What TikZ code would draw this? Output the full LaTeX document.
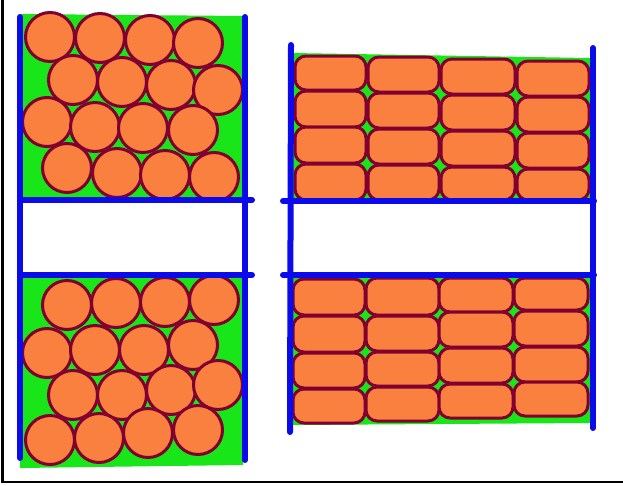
\documentclass[tikz,border=0pt]{standalone}
\begin{document}
\begin{tikzpicture}[x=1pt,y=-1pt,
  pblue/.style={draw=bluel,line width=6pt,line cap=round},
  bed/.style={fill=greenf},
  ball/.style={fill=orangef,draw=maroonl,line width=3pt},
  brick/.style={fill=orangef,draw=maroonl,line width=3pt,rounded corners=11pt},
  frame/.style={draw=black,line width=2.2pt}]
\definecolor{bluel}{RGB}{10,10,235}
\definecolor{greenf}{RGB}{25,230,25}
\definecolor{orangef}{RGB}{250,128,64}
\definecolor{maroonl}{RGB}{128,0,48}
\useasboundingbox (0,0) rectangle (623,485);
\fill[white] (0,0) rectangle (623,485);
% frame (left and bottom only)
\draw[frame] (2.5,0) -- (2.5,482) -- (623,482);
% ---------- left panel ----------
\fill[bed] (20,14) -- (243,16) -- (243,200) -- (20,200) -- cycle;
\fill[bed] (20,275) -- (243,275) -- (243,465) -- (20,468) -- cycle;
% top balls
\foreach \x/\y in {50/37,100/38,150/40,198/43,
                   73/80,122/82,171/85,218/90,
                   47/122,95/127,143/128,193/130,
                   67/168,117/173,165/175,214/177}
  \draw[ball] (\x,\y) circle (24.5);
% bottom balls
\foreach \x/\y in {67/305,116/303,165/302,214/300,
                   47/353,95/350,144/350,193/345,
                   73/395,122/395,171/390,218/385,
                   50/440,99/438,148/433,198/430}
  \draw[ball] (\x,\y) circle (24.5);
% ---------- right panel ----------
\fill[bed] (292,53) -- (590,58) -- (590,200) -- (292,200) -- cycle;
\fill[bed] (292,275) -- (590,275) -- (590,423) -- (292,425) -- cycle;
% top bricks
\foreach \xa/\xb/\ya/\yb in {295/366/56/90,295/366/91/127,295/366/127/163,295/366/164/200,
                             368/439/57/92,368/439/93/128,368/439/129/164,368/439/165/200,
                             441/515/59/94,441/515/95/130,441/515/131/166,441/515/167/200,
                             517/589/61/96,517/589/97/132,517/589/133/168,517/589/169/200}
  \draw[brick] (\xa,\ya) rectangle (\xb,\yb);
% bottom bricks
\foreach \xa/\xb/\ya/\yb in {293/365/279/315,293/365/316/352,293/365/353/388,293/365/389/423,
                             366/439/278/315,366/439/316/351,366/439/352/386,366/439/387/421,
                             439/513/278/312,439/513/312/347,439/513/348/383,439/513/384/418,
                             514/588/278/310,514/588/311/346,514/588/347/382,514/588/382/416}
  \draw[brick] (\xa,\ya) rectangle (\xb,\yb);
% ---------- blue walls ----------
\draw[pblue] (20,17) -- (20,458);
\draw[pblue] (245,17) -- (245,460);
\draw[pblue] (20,200) -- (252,200);
\draw[pblue] (20,275) -- (252,275);
\draw[pblue] (291,45) -- (290,432);
\draw[pblue] (593,48) -- (593,428);
\draw[pblue] (283,201) -- (594,201);
\draw[pblue] (283,275) -- (594,275);
\end{tikzpicture}
\end{document}
